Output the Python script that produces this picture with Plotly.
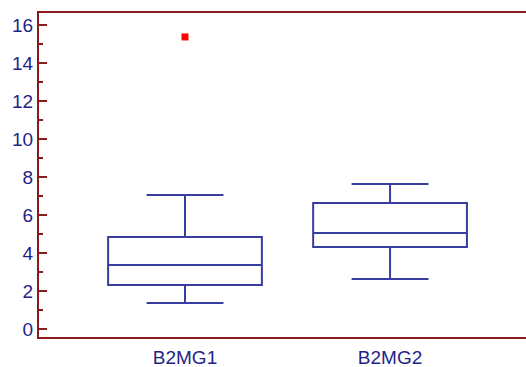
import plotly.graph_objs as go

# box statistics
groups = ["B2MG1", "B2MG2"]
q1 = [2.32, 4.32]
median = [3.37, 5.05]
q3 = [4.84, 6.63]
lowerfence = [1.37, 2.63]
upperfence = [7.05, 7.63]

outlier_group = ["B2MG1"]
outlier_value = [15.37]

box_color = '#3a3da0'
axis_color = '#8b1a1a'
text_color = '#1f2487'

fig = go.Figure()

fig.add_trace(go.Box(x=groups, q1=q1, median=median, q3=q3,
    lowerfence=lowerfence, upperfence=upperfence,
    width=0.75, whiskerwidth=0.5,
    line=dict(color=box_color, width=2),
    fillcolor='rgba(0,0,0,0)', boxpoints=False, showlegend=False))

fig.add_trace(go.Scatter(x=outlier_group, y=outlier_value, mode='markers',
    marker=dict(symbol='square', size=7, color='red'), showlegend=False))

fig.update_layout(
    width=526, height=367,
    plot_bgcolor='white', paper_bgcolor='white',
    font=dict(family='Liberation Sans, Arial', color=text_color, size=19),
    margin=dict(l=39, r=0, t=13, b=30, autoexpand=False),
    showlegend=False,
)

fig.update_xaxes(type='category', range=[-0.712, 1.663],
    showline=True, mirror=True, linecolor=axis_color, linewidth=2,
    showgrid=False, zeroline=False, ticks='outside', ticklen=2,
    tickcolor='rgba(0,0,0,0)', tickfont=dict(size=19, color=text_color))

fig.update_yaxes(range=[-0.42, 16.63], tickvals=list(range(0, 17, 2)),
    showline=True, mirror=False, linecolor=axis_color, linewidth=2,
    showgrid=False, zeroline=False,
    ticks='inside', ticklen=8, tickwidth=1.5, tickcolor=axis_color,
    minor=dict(tickvals=list(range(1, 17, 2)), ticks='inside', ticklen=4,
               tickwidth=1.5, tickcolor=axis_color),
    tickfont=dict(size=19, color=text_color))

# drop the default page margin so the figure fills the window exactly
fig.write_html("out.html", config={'displayModeBar': False},
    post_script="document.body.style.margin='0';document.body.style.overflow='hidden';")
